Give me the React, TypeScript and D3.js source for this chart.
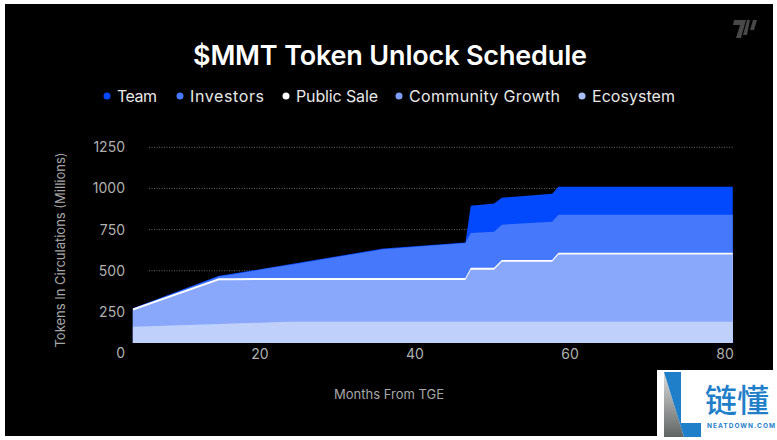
import { useRef, useEffect } from "react";
import * as d3 from "d3";

const title = "$MMT Token Unlock Schedule";
const xLabel = "Months From TGE";
const yLabel = "Tokens In Circulations (Millions)";
const xTicks = [20, 40, 60, 80];
const yTicks = [0, 250, 500, 750, 1000, 1250];

const months = [3.6, 14.7, 16.4, 21.7, 24, 35.9, 46.5, 47.2, 50.2, 51.2, 57.7, 58.5, 81];
// stack increments, millions of tokens
const ecosystem = [159, 177, 179, 187, 190, 190, 190, 190, 190, 190, 190, 190, 190];
const communityGrowth = [99, 266, 264, 257, 254, 254, 254, 316, 316, 364, 364, 408, 408];
const publicSale = [12, 12, 12, 12, 12, 12, 12, 12, 12, 12, 12, 12, 12];
const investors = [0, 10, 22, 63, 81, 175, 212, 212, 219, 214, 232, 230, 230];
const team = [2, 4, 4, 4, 4, 4, 3, 165, 171, 164, 170, 171, 171];

const seriesNames = ["Ecosystem", "Community Growth", "Public Sale", "Investors", "Team"];
const seriesValues = [ecosystem, communityGrowth, publicSale, investors, team];
const seriesColors = ["#bfd0fb", "#8aa8fb", "#ffffff", "#4678fb", "#0248fd"];

const legendNames = ["Team", "Investors", "Public Sale", "Community Growth", "Ecosystem"];
const legendDots = ["#0248fd", "#4678fb", "#ffffff", "#7d9cf5", "#a9bff8"];
const legendX = [107, 180, 286, 399, 582];
const legendWidth = [40, 74, 82, 151, 83];

const font = "Inter, 'Noto Sans', sans-serif";
const floor = 61; // value at the bottom edge of the plot

export default function App() {
  const ref = useRef<SVGSVGElement | null>(null);

  useEffect(() => {
    if (!ref.current) return;

    const svg = d3.select(ref.current);
    svg.selectAll("*").remove();

    svg.append("rect").attr("width", 777).attr("height", 440).attr("fill", "#fff");
    svg.append("rect").attr("x", 5).attr("y", 4).attr("width", 768).attr("height", 432).attr("fill", "#000");

    const x = d3.scaleLinear().domain([0, 80]).range([105, 725]);
    const y = d3.scaleLinear().domain([floor, 1250]).range([343, 147.3]);

    svg
      .append("text")
      .attr("x", 390)
      .attr("y", 65)
      .attr("text-anchor", "middle")
      .attr("textLength", 394)
      .attr("font-family", font)
      .attr("font-size", 27)
      .attr("font-weight", 600)
      .attr("fill", "#fff")
      .text(title);

    legendNames.forEach((name, i) => {
      svg
        .append("circle")
        .attr("cx", legendX[i])
        .attr("cy", 96)
        .attr("r", 3.5)
        .attr("fill", legendDots[i]);
      svg
        .append("text")
        .attr("x", legendX[i] + 10)
        .attr("y", 102)
        .attr("textLength", legendWidth[i])
        .attr("font-family", font)
        .attr("font-size", 16)
        .attr("fill", "#e8e8e8")
        .text(name);
    });

    // grid
    svg
      .append("g")
      .selectAll("line")
      .data(yTicks.filter((d) => d > 0))
      .join("line")
      .attr("x1", 149)
      .attr("x2", x(81))
      .attr("y1", (d) => y(d))
      .attr("y2", (d) => y(d))
      .attr("stroke", "#666")
      .attr("stroke-dasharray", "1 1.5");

    const rows = months.map((m, i) => {
      const row: Record<string, number> = { month: m };
      seriesNames.forEach((name, j) => {
        row[name] = seriesValues[j][i];
      });
      return row;
    });

    const stacked = d3.stack<Record<string, number>>().keys(seriesNames)(rows);

    // every band is filled down to the floor, top band first, so no seams show
    const area = d3
      .area<d3.SeriesPoint<Record<string, number>>>()
      .x((d) => x(d.data.month))
      .y0(y(floor))
      .y1((d) => y(d[1]));

    svg
      .append("g")
      .selectAll("path")
      .data(stacked.slice().reverse())
      .join("path")
      .attr("fill", (d) => seriesColors[d.index])
      .attr("d", (d) => area(d) || "");

    // axis labels
    svg
      .append("g")
      .selectAll("text")
      .data(yTicks)
      .join("text")
      .attr("x", 125)
      .attr("y", (d) => y(d) + 5)
      .attr("text-anchor", "end")
      .attr("font-family", font)
      .attr("font-size", 14)
      .attr("fill", "#b0b0b0")
      .text((d) => d);

    svg
      .append("g")
      .selectAll("text")
      .data(xTicks)
      .join("text")
      .attr("x", (d) => x(d))
      .attr("y", 359)
      .attr("text-anchor", "middle")
      .attr("font-family", font)
      .attr("font-size", 14)
      .attr("fill", "#b0b0b0")
      .text((d) => d);

    svg
      .append("text")
      .attr("x", 389)
      .attr("y", 399)
      .attr("text-anchor", "middle")
      .attr("font-family", font)
      .attr("font-size", 13)
      .attr("fill", "#a8a8a8")
      .text(xLabel);

    svg
      .append("text")
      .attr("transform", "translate(65,250) rotate(-90)")
      .attr("text-anchor", "middle")
      .attr("font-family", font)
      .attr("font-size", 13)
      .attr("fill", "#a8a8a8")
      .text(yLabel);

    // corner mark
    const mark = svg.append("g").attr("fill", "#484848");
    mark.append("path").attr("d", "M734 20H746L741 38H736L740 25H733Z");
    mark.append("path").attr("d", "M744 35L748 20H751L748 35Z").attr("transform", "translate(-1,0)");
    mark.append("path").attr("d", "M750 30L753 20H757L754 30Z");

    // watermark
    const defs = svg.append("defs");
    const grad = defs
      .append("linearGradient")
      .attr("id", "wmGrey")
      .attr("x1", 0)
      .attr("y1", 0)
      .attr("x2", 0)
      .attr("y2", 1);
    grad.append("stop").attr("offset", 0).attr("stop-color", "#dcdcdc");
    grad.append("stop").attr("offset", 1).attr("stop-color", "#5f6463");

    const wm = svg.append("g");
    wm.append("rect").attr("x", 657).attr("y", 370).attr("width", 120).attr("height", 70).attr("fill", "#fff");
    wm.append("path").attr("d", "M664 372V437H684Z").attr("fill", "url(#wmGrey)");
    wm.append("path").attr("d", "M664 372H681V423H701V437H684Z").attr("fill", "#1f7fc9");
    wm.append("text")
      .attr("x", 705)
      .attr("y", 412)
      .attr("font-family", "'Noto Sans CJK SC'")
      .attr("font-size", 32)
      .attr("font-weight", 500)
      .attr("fill", "#1f7fc9")
      .text("链懂");
    wm.append("text")
      .attr("x", 707)
      .attr("y", 428)
      .attr("textLength", 68)
      .attr("font-family", font)
      .attr("font-size", 6.5)
      .attr("font-weight", 700)
      .attr("fill", "#1f7fc9")
      .text("NEATDOWN.COM");
  }, []);

  return (
    <svg
      ref={ref}
      width={777}
      height={440}
      style={{ position: "absolute", left: 0, top: 0 }}
    />
  );
}
